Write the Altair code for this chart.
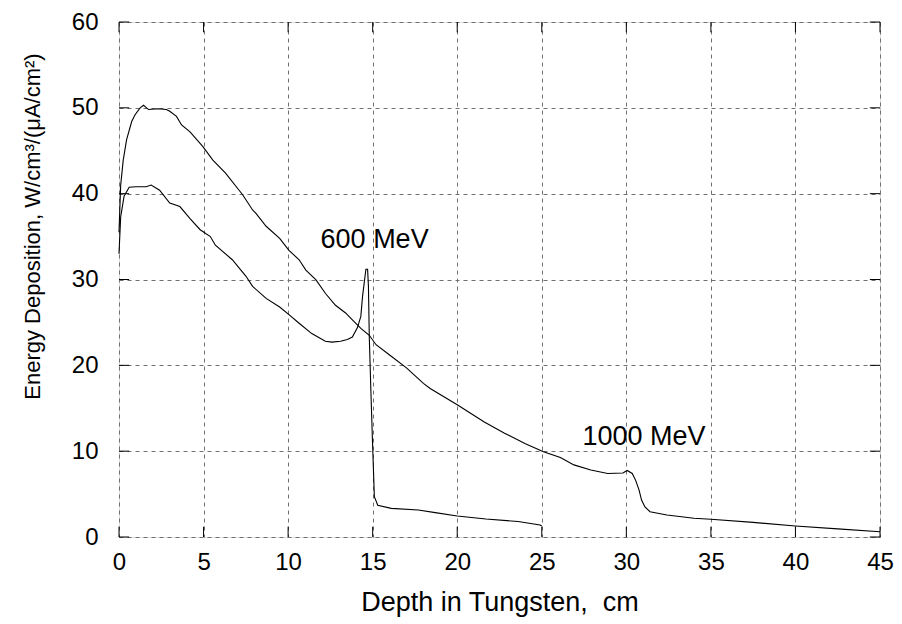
import altair as alt
import pandas as pd

# 1000 MeV curve (depth cm, energy deposition)
x1000 = [0.0, 0.1, 0.25, 0.45, 0.75, 0.95, 1.25, 1.45, 1.75, 2.3, 2.8, 3.0, 3.4, 3.7, 4.2,
         4.95, 5.55, 6.3, 7.1, 7.3, 7.9, 8.1, 8.7, 9.5, 10.05, 10.65, 11.05, 11.65, 12.2,
         12.8, 13.4, 13.8, 14.3, 14.8, 15.2, 16.0, 17.0, 18.0, 18.4, 20.0, 21.6, 22.8,
         24.0, 25.1, 26.1, 26.9, 27.9, 28.9, 29.8, 30.05, 30.35, 30.55, 30.75, 30.9,
         31.1, 31.4, 32.4, 34.0, 35.0, 37.5, 40.0, 42.5, 45.0]
y1000 = [35.5, 41.0, 43.9, 46.3, 48.4, 49.2, 50.0, 50.3, 49.8, 49.9, 49.8, 49.6, 49.0, 48.0, 47.2,
         45.5, 43.9, 42.4, 40.4, 39.9, 38.1, 37.7, 36.2, 34.8, 33.4, 32.3, 31.1, 29.95, 28.4,
         27.0, 26.1, 25.3, 24.3, 23.5, 22.4, 21.2, 19.7, 17.9, 17.3, 15.4, 13.4, 12.1,
         10.9, 9.94, 9.25, 8.4, 7.8, 7.4, 7.45, 7.75, 7.4, 6.6, 5.5, 4.3,
         3.5, 2.95, 2.56, 2.18, 2.06, 1.7, 1.28, 0.95, 0.62]

# 600 MeV curve
x600 = [0.0, 0.1, 0.3, 0.6, 1.0, 1.6, 1.9, 2.4, 3.0, 3.6, 4.2, 4.8, 5.4, 5.7, 6.7, 7.5, 7.9,
        8.7, 9.5, 10.05, 10.65, 11.4, 12.2, 12.6, 13.1, 13.5, 13.8, 14.1, 14.3, 14.4, 14.5,
        14.6, 14.7, 14.75, 14.8, 14.9, 15.0, 15.1, 15.3, 16.1, 17.7, 18.7, 20.0, 21.7,
        23.6, 24.9, 25.0]
y600 = [33.0, 37.3, 39.7, 40.75, 40.8, 40.8, 41.0, 40.4, 38.9, 38.5, 37.1, 35.8, 35.0, 34.0, 32.3,
        30.4, 29.2, 27.8, 26.8, 25.9, 24.9, 23.7, 22.8, 22.7, 22.8, 23.0, 23.3, 24.4, 25.7,
        28.0, 29.6, 31.2, 31.2, 29.2, 23.3, 16.7, 10.5, 4.7, 3.7, 3.34, 3.15, 2.84, 2.45,
        2.1, 1.8, 1.4, 1.28]

labels = ["600 MeV", "1000 MeV"]
label_x = [11.92, 27.41]
label_y = [33.67, 10.72]

x_ticks = [0, 5, 10, 15, 20, 25, 30, 35, 40, 45]
y_ticks = [0, 10, 20, 30, 40, 50, 60]

FONT = "Liberation Sans"

df = pd.concat([
    pd.DataFrame({"x": x1000, "y": y1000, "s": "1000 MeV"}),
    pd.DataFrame({"x": x600, "y": y600, "s": "600 MeV"}),
], ignore_index=True)

xs = alt.Scale(domain=[0, 45], nice=False, zero=False)
ys = alt.Scale(domain=[0, 60], nice=False, zero=False)

xaxis = alt.Axis(values=x_ticks, title="Depth in Tungsten,\u00a0\u00a0cm", labelFontSize=24,
                 labelFont=FONT, titleFont=FONT, titleFontSize=27, titleFontWeight="normal",
                 labelColor="black", titleColor="black", tickSize=0, labelPadding=13,
                 domain=False, grid=True, gridColor="#707070", gridDash=[4, 4], gridWidth=1,
                 titleY=73, titleBaseline="alphabetic", labelFlush=False)
yaxis = alt.Axis(values=y_ticks, title="Energy Deposition, W/cm³/(μA/cm²)", labelFontSize=24,
                 labelFont=FONT, titleFont=FONT, titleFontSize=22, titleFontWeight="normal",
                 labelColor="black", titleColor="black", tickSize=0, labelPadding=21,
                 domain=False, grid=True, gridColor="#707070", gridDash=[4, 4], gridWidth=1,
                 titleAngle=270, titleX=-87, titleY=204, titleAlign="center",
                 titleBaseline="middle", labelFlush=False)

lines = alt.Chart(df).mark_line(color="black", strokeWidth=1.1, interpolate="linear").encode(
    x=alt.X("x:Q", scale=xs, axis=xaxis),
    y=alt.Y("y:Q", scale=ys, axis=yaxis),
    detail="s:N",
)

# inward tick marks (bottom / top / left / right)
xt = pd.DataFrame({"x": x_ticks})
yt = pd.DataFrame({"y": y_ticks})
tick_b = alt.Chart(xt).mark_rule(color="black", strokeWidth=1).encode(
    x=alt.X("x:Q", scale=xs), y=alt.datum(0), y2=alt.datum(1.2))
tick_t = alt.Chart(xt).mark_rule(color="black", strokeWidth=1).encode(
    x=alt.X("x:Q", scale=xs), y=alt.datum(60), y2=alt.datum(58.8))
tick_l = alt.Chart(yt).mark_rule(color="black", strokeWidth=1).encode(
    y=alt.Y("y:Q", scale=ys), x=alt.datum(0), x2=alt.datum(0.6))
tick_r = alt.Chart(yt).mark_rule(color="black", strokeWidth=1).encode(
    y=alt.Y("y:Q", scale=ys), x=alt.datum(45), x2=alt.datum(44.4))

ann = alt.Chart(pd.DataFrame({"t": labels, "x": label_x, "y": label_y})).mark_text(
    align="left", baseline="alphabetic", font=FONT, fontSize=27, color="black"
).encode(x=alt.X("x:Q", scale=xs), y=alt.Y("y:Q", scale=ys), text="t:N")

chart = alt.layer(tick_b, tick_t, tick_l, tick_r, lines, ann).properties(
    width=761, height=515,
    autosize=alt.AutoSizeParams(type="none"),
    padding={"left": 111, "top": 14, "right": 14, "bottom": 80},
).configure_view(stroke="black", strokeWidth=2).configure(background="white")

chart.save("out.html", embed_options={"renderer": "svg", "actions": False})
